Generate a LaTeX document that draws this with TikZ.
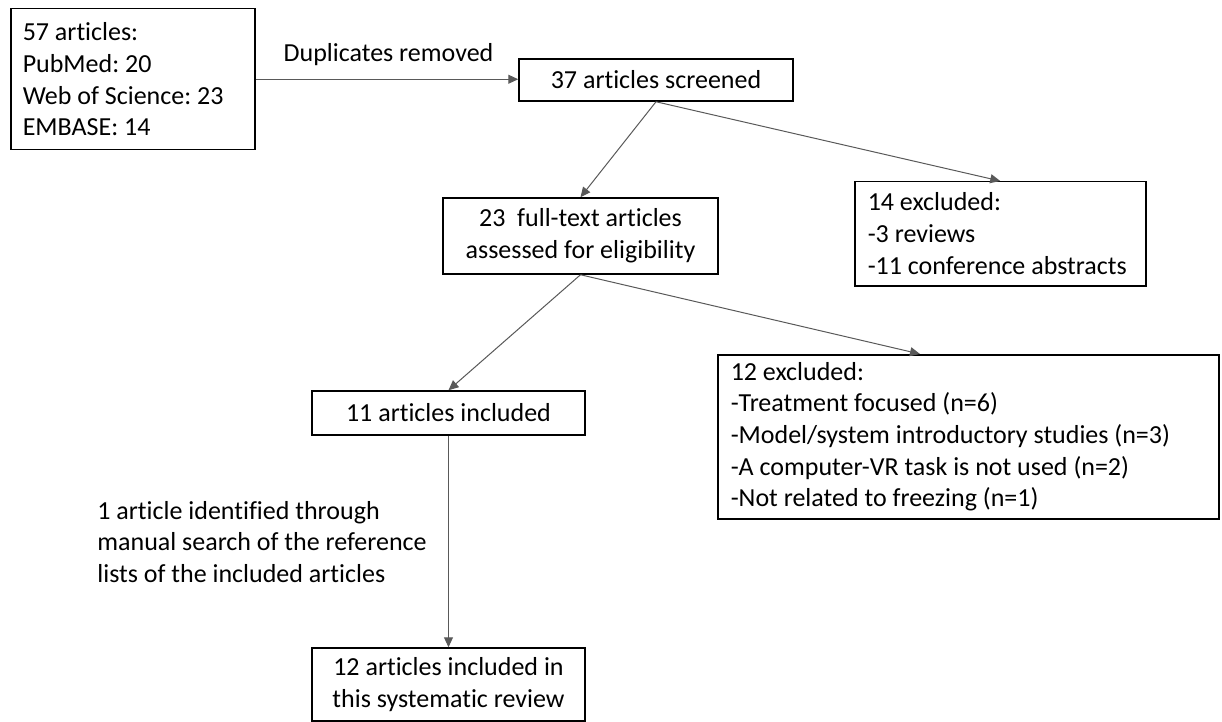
\documentclass[tikz,border=0pt]{standalone}
\usepackage{fontspec}
\setmainfont{Carlito}[Ligatures={NoCommon}]
\usepackage{tikz}
\usetikzlibrary{positioning, arrows.meta}

\frenchspacing
\tikzset{
  box/.style={draw, line width=0.75pt, inner sep=0pt, align=center},
  lbox/.style={draw, line width=0.75pt, inner ysep=0pt, inner xsep=6.5pt,
               align=flush left, anchor=north west},
  flow/.style={draw=black!65, line width=0.5pt,
               -{Triangle[length=5pt,width=4.5pt]}},
}

\begin{document}
\begin{tikzpicture}[x=0.5pt, y=-0.5pt, font=\fontsize{13}{15.85}\selectfont]
  \useasboundingbox (0,0) rectangle (1222,722);

  % search results
  \node[lbox, inner xsep=6pt, text width=110pt, minimum height=70.5pt]
    (src) at (10,8) {57 articles:\\PubMed: 20\\Web of Science: 23\\EMBASE: 14};
  \node[box, minimum width=137pt, minimum height=21pt]
    (screened) at (656,80) {37 articles screened};
  \node (dup) at (388.5,55) {Duplicates removed};

  % screening
  \node[box, minimum width=137.5pt, minimum height=38pt]
    (fulltext) at (580.5,236) {23\ \ full-text articles\\assessed for eligibility};
  \node[lbox, text width=132.5pt, minimum height=52pt]
    (excl1) at (854,181) {14 excluded:\\-3 reviews\\-11 conference abstracts};

  % eligibility
  \node[box, minimum width=136.5pt, minimum height=22pt]
    (incl) at (448.5,413) {11 articles included};
  \node[lbox, text width=237.5pt, minimum height=82pt]
    (excl2) at (717,354) {12 excluded:\\-Treatment focused (n=6)\\-Model/system introductory studies (n=3)\\-A computer-VR task is not used (n=2)\\-Not related to freezing (n=1)};
  \coordinate (excl2in) at ([xshift=101.5pt]excl2.north west);

  % manual search
  \node[align=left, anchor=west, inner sep=0pt]
    (manual) at (97,542) {1 article identified through\\manual search of the reference\\lists of the included articles};
  \node[box, minimum width=136.5pt, minimum height=36.5pt]
    (final) at (448.5,684.5) {12 articles included in\\this systematic review};

  \draw[flow] (src.east) -- (src.east -| screened.west);
  \draw[flow] (screened.south) -- (fulltext.north);
  \draw[flow] (screened.south) -- (excl1.north);
  \draw[flow] (fulltext.south) -- (incl.north);
  \draw[flow] (fulltext.south) -- (excl2in);
  \draw[flow] (incl.south) -- (final.north);
\end{tikzpicture}
\end{document}
